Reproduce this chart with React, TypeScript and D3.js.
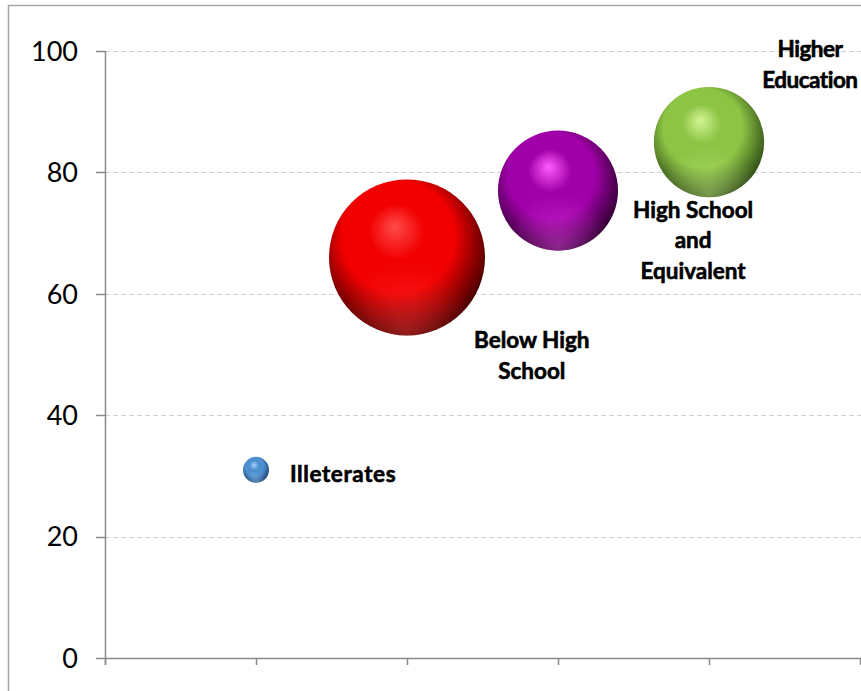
import React from "react";
import * as d3 from "d3";

const categories = ["Illeterates", "Below High School", "High School and Equivalent", "Higher Education"];
const xValues = [1, 2, 3, 4];
const yValues = [31, 66, 77, 85];
const sizes = [1.5, 54, 32, 27];
const labelLines = [["Illeterates"], ["Below High", "School"], ["High School", "and", "Equivalent"], ["Higher", "Education"]];
const yTicks = [0, 20, 40, 60, 80, 100];
const xTicks = [0, 1, 2, 3, 4, 5];

const palettes = [
  { hi: "#a9d3f7", mid: "#4d8fd0", edge: "#163d6c" },
  { hi: "#ff4a4a", mid: "#f20000", edge: "#3a0000" },
  { hi: "#ff5cff", mid: "#a000a8", edge: "#2a002a" },
  { hi: "#d4f494", mid: "#8cc444", edge: "#2c4614" },
];

export default function App() {
  const W = 861, H = 691;
  const left = 105, top = 51, bottom = 658;
  const x = d3.scaleLinear().domain([0, 5]).range([left, left + 151 * 5]);
  const y = d3.scaleLinear().domain([0, 100]).range([bottom, top]);
  const r = d3.scaleSqrt().domain([0, d3.max(sizes) as number]).range([0, 78]);
  const font = "Lato, 'DejaVu Sans', sans-serif";

  const labelPos = (i: number) => {
    const cx = x(xValues[i]), cy = y(yValues[i]), rr = r(sizes[i]);
    if (i === 0) return { x: cx + rr + 21, y: cy + 4, anchor: "start", ls: 0.6 };
    if (i === 1) return { x: cx + rr * 1.6, y: cy + 83, anchor: "middle", ls: 0 };
    if (i === 2) return { x: cx + rr * 2.25, y: cy + 19, anchor: "middle", ls: 0 };
    return { x: cx + rr * 1.83, y: cy - 93, anchor: "middle", ls: -0.5 };
  };

  return (
    <svg width={W} height={H} style={{ position: "absolute", left: 0, top: 0, background: "#fff" }}>
      <defs>
        {palettes.map((p, i) => (
          <radialGradient key={i} id={`g${i}`} cx="0.46" cy="0.42" r="0.6" fx="0.42" fy="0.3">
            <stop offset="0" stopColor={p.hi} />
            <stop offset="0.3" stopColor={p.mid} />
            <stop offset="0.6" stopColor={p.mid} />
            <stop offset="1" stopColor={p.edge} />
          </radialGradient>
        ))}
        {palettes.map((p, i) => (
          <radialGradient key={"b" + i} id={`rim${i}`} cx="0.5" cy="0.97" r="0.45">
            <stop offset="0" stopColor={p.hi} stopOpacity={0.4} />
            <stop offset="1" stopColor={p.hi} stopOpacity={0} />
          </radialGradient>
        ))}
      </defs>
      <rect x={8.5} y={5.5} width={W} height={H} fill="#fff" stroke="#a6a6a6" strokeWidth={1.5} />
      {yTicks.filter((t) => t > 0).map((t) => (
        <line key={t} x1={left} x2={W} y1={Math.round(y(t)) + 0.5} y2={Math.round(y(t)) + 0.5}
          stroke="#d0d0d0" strokeDasharray="5,3" />
      ))}
      {yTicks.map((t) => (
        <g key={"yt" + t}>
          <line x1={96} x2={left} y1={Math.round(y(t)) + 0.5} y2={Math.round(y(t)) + 0.5} stroke="#8a8a8a" strokeWidth={1.5} />
          <text x={78} y={y(t)} dy="0.36em" textAnchor="end" fontFamily={font} fontSize={27} fill="#000">{t}</text>
        </g>
      ))}
      <line x1={left + 0.5} x2={left + 0.5} y1={top} y2={bottom + 7} stroke="#8a8a8a" strokeWidth={1.5} />
      <line x1={left} x2={W} y1={bottom + 0.5} y2={bottom + 0.5} stroke="#8a8a8a" strokeWidth={1.5} />
      {xTicks.map((t) => (
        <line key={"xt" + t} x1={Math.round(x(t)) + 0.5} x2={Math.round(x(t)) + 0.5} y1={bottom} y2={bottom + 7} stroke="#8a8a8a" strokeWidth={1.5} />
      ))}
      {categories.map((c, i) => (
        <g key={c}>
          <circle cx={x(xValues[i])} cy={y(yValues[i])} r={r(sizes[i])} fill={`url(#g${i})`} />
          <circle cx={x(xValues[i])} cy={y(yValues[i])} r={r(sizes[i])} fill={`url(#rim${i})`} />
        </g>
      ))}
      {categories.map((c, i) => {
        const p = labelPos(i);
        return (
          <text key={"l" + c} x={p.x} y={p.y} textAnchor={p.anchor as any} fontFamily={font} fontWeight={700}
            fontSize={22.5} letterSpacing={p.ls} fill="#000" stroke="#000" strokeWidth={0.6}>
            {labelLines[i].map((ln, j) => (
              <tspan key={j} x={p.x} dy={j === 0 ? "0.36em" : 30.5}>{ln}</tspan>
            ))}
          </text>
        );
      })}
    </svg>
  );
}
